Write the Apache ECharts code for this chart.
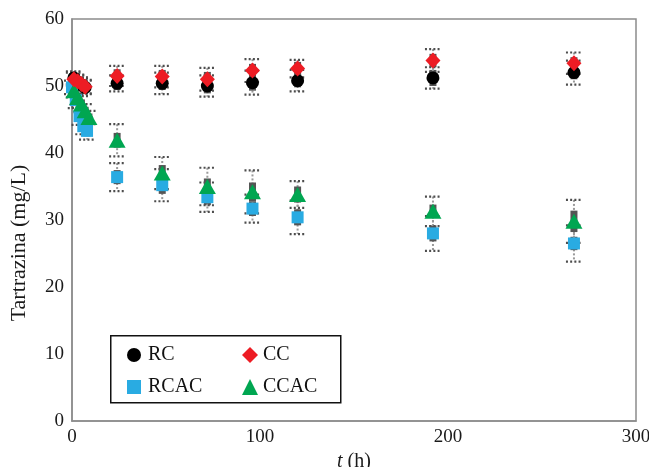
<!DOCTYPE html>
<html>
<head>
<meta charset="utf-8">
<script src="https://cdn.jsdelivr.net/npm/echarts@6/dist/echarts.min.js"></script>
<style>html,body{margin:0;padding:0;background:#fff;overflow:hidden}#c{width:649px;height:467px}</style>
</head>
<body>
<div id="c"></div>
<script>
// Time (h) per series
const tRC   = [1, 3, 5, 7, 24, 48, 72, 96, 120, 192, 267];
const tCC   = [1, 3, 5, 7, 24, 48, 72, 96, 120, 192, 267];
const tRCAC = [0, 2, 4, 6, 8, 24, 48, 72, 96, 120, 192, 267];
const tCCAC = [1, 3, 5, 7, 9, 24, 48, 72, 96, 120, 192, 267];
// Tartrazina (mg/L)
const vRC   = [51.2, 50.6, 50.2, 49.8, 50.4, 50.4, 50.0, 50.5, 50.8, 51.2, 52.0];
const vCC   = [51.0, 50.7, 50.3, 49.9, 51.5, 51.4, 51.0, 52.3, 52.6, 53.8, 53.4];
const vRCAC = [49.8, 47.9, 45.5, 44.0, 43.3, 36.4, 35.2, 33.4, 31.7, 30.4, 28.0, 26.5];
const vCCAC = [49.3, 48.3, 47.3, 46.3, 45.3, 41.9, 37.0, 35.0, 34.2, 33.8, 31.3, 29.8];
// error bars (dotted whiskers)
const eRC   = [1.0, 1.0, 1.0, 1.0, 1.2, 1.6, 1.6, 1.8, 1.6, 1.6, 1.8];
const eCC   = [1.0, 1.0, 1.0, 1.0, 1.5, 1.6, 1.7, 1.7, 1.3, 1.7, 1.6];
const eRCAC = [1.0, 1.2, 1.3, 1.2, 1.3, 2.1, 2.4, 2.2, 2.1, 2.5, 2.6, 2.7];
const eCCAC = [1.0, 1.1, 1.2, 1.0, 1.0, 2.4, 2.4, 2.8, 3.2, 2.0, 2.2, 3.2];
// inner gray boxes
const bRC   = [0.6, 0.6, 0.6, 0.6, 1.0, 1.0, 1.1, 1.2, 1.0, 1.2, 1.0];
const bCC   = [0.6, 0.6, 0.6, 0.6, 1.0, 1.0, 1.1, 1.0, 1.0, 1.0, 0.9];
const bRCAC = [0.7, 0.7, 0.8, 0.7, 0.8, 1.05, 1.3, 1.2, 1.1, 1.2, 1.2, 1.0];
const bCCAC = [0.6, 0.7, 0.7, 0.6, 0.6, 1.1, 1.2, 1.2, 1.4, 1.2, 1.0, 1.6];
const xTicks = [0, 100, 200, 300];
const yTicks = [0, 10, 20, 30, 40, 50, 60];

const FONT = 'Liberation Serif';
const zip = (t, v, e, b) => t.map((x, i) => [x, v[i], e[i], b[i]]);

function errItem(params, api) {
  const t = api.value(0), v = api.value(1), e = api.value(2), b = api.value(3);
  const hi = api.coord([t, v + e]), lo = api.coord([t, v - e]);
  const bh = api.coord([t, v + b]), bl = api.coord([t, v - b]);
  const x = hi[0], cw = 8, bw = 3.5;
  const cap = (y) => ({type: 'line', shape: {x1: x - cw, y1: y, x2: x + cw, y2: y},
    style: {stroke: '#4d4d4d', lineWidth: 2.2, lineDash: [2, 2.2]}});
  return {type: 'group', children: [
    {type: 'line', shape: {x1: x, y1: hi[1], x2: x, y2: lo[1]},
      style: {stroke: '#9a9a9a', lineWidth: 2, lineDash: [2, 2]}},
    cap(hi[1]), cap(lo[1]),
    {type: 'rect', shape: {x: x - bw, y: bh[1], width: bw * 2, height: bl[1] - bh[1]},
      style: {fill: '#555555'}}
  ]};
}
function errSeries(name, d) {
  return {type: 'custom', name: name + '_err', renderItem: errItem, data: d, z: 1,
    encode: {x: 0, y: 1}, silent: true};
}

const chart = echarts.init(document.getElementById('c'));
chart.setOption({
  animation: false,
  backgroundColor: '#fff',
  grid: {left: 72, right: 13, top: 19, bottom: 46, show: true, containLabel: false,
    outerBoundsMode: 'none',
    borderColor: '#8c8c8c', borderWidth: 1.5, backgroundColor: 'transparent'},
  xAxis: {type: 'value', min: 0, max: 300, interval: 100,
    axisLine: {show: true, lineStyle: {color: '#8c8c8c', width: 1.5}},
    axisTick: {show: false}, splitLine: {show: false},
    axisLabel: {fontFamily: FONT, fontSize: 19, color: '#1a1a1a', margin: 7,
      formatter: v => xTicks.includes(v) ? String(v) : ''},
    name: '{i|t} (h)', nameLocation: 'middle', nameGap: 26,
    nameTextStyle: {fontFamily: FONT, fontSize: 20, color: '#1a1a1a',
      rich: {i: {fontFamily: FONT, fontSize: 20, fontStyle: 'italic', color: '#1a1a1a'}}}},
  yAxis: {type: 'value', min: 0, max: 60, interval: 10,
    axisLine: {show: true, lineStyle: {color: '#8c8c8c', width: 1.5}},
    axisTick: {show: false}, splitLine: {show: false},
    axisLabel: {fontFamily: FONT, fontSize: 19, color: '#1a1a1a', margin: 8,
      formatter: v => yTicks.includes(v) ? String(v) : ''},
    name: 'Tartrazina (mg/L)', nameLocation: 'middle', nameGap: 42,
    nameTextStyle: {fontFamily: FONT, fontSize: 22, color: '#1a1a1a', padding: [0, 46, 0, 0]}},
  legend: [
    {orient: 'vertical', left: 122, top: 340, itemGap: 12, itemWidth: 14, itemHeight: 14,
      data: ['RC', 'RCAC'], textStyle: {fontFamily: FONT, fontSize: 20, color: '#111', padding: [0,0,0,2]}},
    {orient: 'vertical', left: 237, top: 340, itemGap: 12, itemWidth: 16, itemHeight: 16,
      data: ['CC', 'CCAC'], textStyle: {fontFamily: FONT, fontSize: 20, color: '#111', padding: [0,0,0,0]}}
  ],
  graphic: [{type: 'rect', left: 110, top: 335, shape: {width: 230, height: 67},
    style: {fill: 'transparent', stroke: '#111', lineWidth: 1.5}, z: 10}],
  series: [
    errSeries('RC', zip(tRC, vRC, eRC, bRC)),
    errSeries('CC', zip(tCC, vCC, eCC, bCC)),
    errSeries('RCAC', zip(tRCAC, vRCAC, eRCAC, bRCAC)),
    errSeries('CCAC', zip(tCCAC, vCCAC, eCCAC, bCCAC)),
    {type: 'scatter', name: 'RC', symbol: 'circle', symbolSize: 13, z: 5,
      itemStyle: {color: '#000', opacity: 1}, data: tRC.map((t, i) => [t, vRC[i]])},
    {type: 'scatter', name: 'RCAC', symbol: 'rect', symbolSize: 12, z: 5,
      itemStyle: {color: '#29abe2', opacity: 1}, data: tRCAC.map((t, i) => [t, vRCAC[i]])},
    {type: 'scatter', name: 'CCAC', symbol: 'triangle', symbolSize: [17, 15], z: 6,
      itemStyle: {color: '#00a651', opacity: 1}, data: tCCAC.map((t, i) => [t, vCCAC[i]])},
    {type: 'scatter', name: 'CC', symbol: 'diamond', symbolSize: [15, 16], z: 6,
      itemStyle: {color: '#ed1c24', opacity: 1}, data: tCC.map((t, i) => [t, vCC[i]])}
  ]
});
</script>
</body>
</html>
